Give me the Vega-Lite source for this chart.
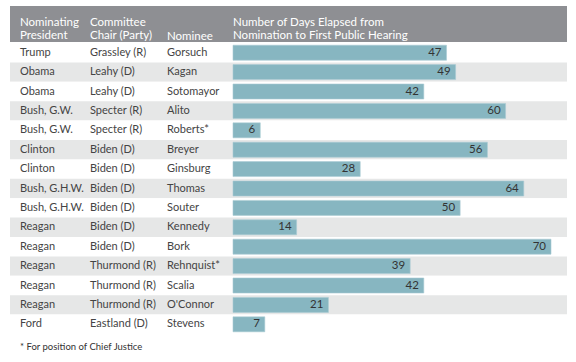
{
  "$schema": "https://vega.github.io/schema/vega-lite/v6.json",
  "padding": {"left": 10, "top": 6, "right": 9, "bottom": 0},
  "autosize": {"type": "pad"},
  "background": "white",
  "config": {
    "view": {"stroke": null},
    "font": "Lato"
  },
  "title": {
    "text": "* For position of Chief Justice",
    "orient": "bottom",
    "anchor": "start",
    "dx": 10,
    "offset": 8,
    "fontSize": 9.5,
    "fontWeight": "normal",
    "color": "#333333",
    "font": "Lato"
  },
  "spacing": 1,
  "datasets": {
    "rows": [
      {"president": "Trump", "chair": "Grassley (R)", "nominee": "Gorsuch", "days": 47},
      {"president": "Obama", "chair": "Leahy (D)", "nominee": "Kagan", "days": 49},
      {"president": "Obama", "chair": "Leahy (D)", "nominee": "Sotomayor", "days": 42},
      {"president": "Bush, G.W.", "chair": "Specter (R)", "nominee": "Alito", "days": 60},
      {"president": "Bush, G.W.", "chair": "Specter (R)", "nominee": "Roberts*", "days": 6},
      {"president": "Clinton", "chair": "Biden (D)", "nominee": "Breyer", "days": 56},
      {"president": "Clinton", "chair": "Biden (D)", "nominee": "Ginsburg", "days": 28},
      {"president": "Bush, G.H.W.", "chair": "Biden (D)", "nominee": "Thomas", "days": 64},
      {"president": "Bush, G.H.W.", "chair": "Biden (D)", "nominee": "Souter", "days": 50},
      {"president": "Reagan", "chair": "Biden (D)", "nominee": "Kennedy", "days": 14},
      {"president": "Reagan", "chair": "Biden (D)", "nominee": "Bork", "days": 70},
      {"president": "Reagan", "chair": "Thurmond (R)", "nominee": "Rehnquist*", "days": 39},
      {"president": "Reagan", "chair": "Thurmond (R)", "nominee": "Scalia", "days": 42},
      {"president": "Reagan", "chair": "Thurmond (R)", "nominee": "O'Connor", "days": 21},
      {"president": "Ford", "chair": "Eastland (D)", "nominee": "Stevens", "days": 7}
    ]
  },
  "vconcat": [
    {
      "width": 557,
      "height": 36,
      "view": {"fill": "#8e8f93", "stroke": null},
      "data": {"values": [{}]},
      "encoding": {"y": {"value": 33.5}},
      "layer": [
        {
          "mark": {"type": "text", "align": "left", "baseline": "alphabetic", "fontSize": 11.5, "color": "white", "lineHeight": 13.6, "lineBreak": "\n", "dy": -13.6},
          "encoding": {"x": {"datum": -46.89, "type": "quantitative",
                  "scale": {"domain": [-49.09, 73.52], "nice": false, "zero": false}, "axis": null},
                  "text": {"value": "Nominating\nPresident"}}
        },
        {
          "mark": {"type": "text", "align": "left", "baseline": "alphabetic", "fontSize": 11.5, "color": "white", "lineHeight": 13.6, "lineBreak": "\n", "dy": -13.6},
          "encoding": {"x": {"datum": -31.48, "type": "quantitative"}, "text": {"value": "Committee\nChair (Party)"}}
        },
        {
          "mark": {"type": "text", "align": "left", "baseline": "alphabetic", "fontSize": 11.5, "color": "white"},
          "encoding": {"x": {"datum": -14.53, "type": "quantitative"}, "text": {"value": "Nominee"}}
        },
        {
          "mark": {"type": "text", "align": "left", "baseline": "alphabetic", "fontSize": 11.5, "color": "white", "lineHeight": 13.6, "lineBreak": "\n", "dy": -13.6},
          "encoding": {"x": {"datum": 0, "type": "quantitative"}, "text": {"value": "Number of Days Elapsed from\nNomination to First Public Hearing"}}
        }
      ]
    },
    {
      "width": 557,
      "height": 291,
      "data": {"name": "rows"},
      "transform": [{"window": [{"op": "row_number", "as": "rn"}]}],
      "encoding": {
        "y": {"field": "nominee", "type": "nominal", "sort": null,
              "scale": {"paddingInner": 0, "paddingOuter": 0}, "axis": null}
      },
      "layer": [
        {
          "mark": {"type": "rect"},
          "encoding": {
            "x": {"value": 0},
            "x2": {"value": "width"},
            "color": {"condition": {"test": "datum.rn % 2 == 0", "value": "#e6e7e7"}, "value": "#ffffff"}
          }
        },
        {
          "mark": {"type": "bar", "color": "#87b6c1", "height": 15, "stroke": "#a9cbd3", "strokeWidth": 0.6},
          "encoding": {
            "x": {"field": "days", "type": "quantitative",
                  "scale": {"domain": [-49.09, 73.52], "nice": false, "zero": false}, "axis": null}
          }
        },
        {
          "mark": {"type": "text", "align": "right", "dx": -5, "fontSize": 11.5, "color": "#333333"},
          "encoding": {
            "x": {"field": "days", "type": "quantitative"},
            "text": {"field": "days"}
          }
        },
        {
          "mark": {"type": "text", "align": "left", "fontSize": 11, "color": "#444444"},
          "encoding": {"x": {"datum": -46.89, "type": "quantitative"}, "text": {"field": "president"}}
        },
        {
          "mark": {"type": "text", "align": "left", "fontSize": 11, "color": "#444444"},
          "encoding": {"x": {"datum": -31.48, "type": "quantitative"}, "text": {"field": "chair"}}
        },
        {
          "mark": {"type": "text", "align": "left", "fontSize": 11, "color": "#444444"},
          "encoding": {"x": {"datum": -14.53, "type": "quantitative"}, "text": {"field": "nominee"}}
        }
      ]
    }
  ]
}
